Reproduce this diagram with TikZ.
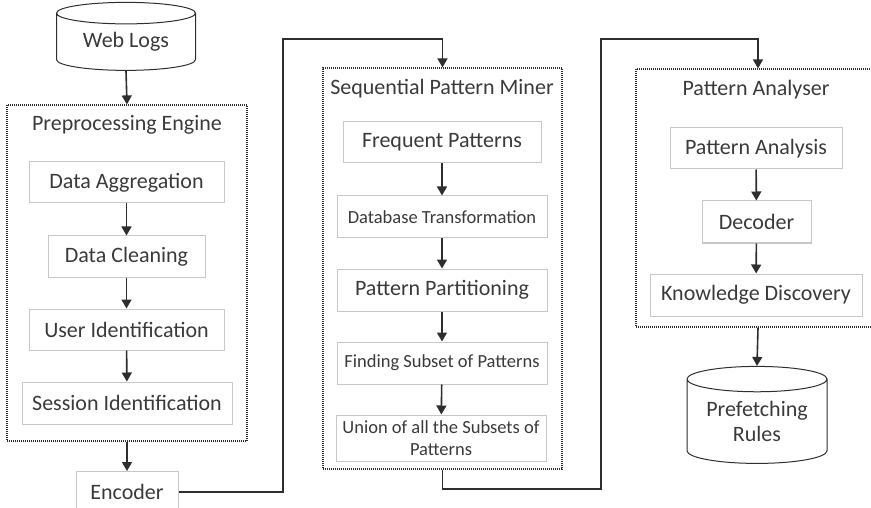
\documentclass[tikz,border=0pt]{standalone}
\usepackage{fontspec}
\setmainfont{Carlito}
\usepackage{tikz}
\usetikzlibrary{arrows.meta}
\usetikzlibrary{shapes.geometric}
\definecolor{txtgray}{HTML}{3A3A3A}
\definecolor{boxgray}{HTML}{C8C8C8}
\definecolor{linegray}{HTML}{2E2E2E}
\tikzset{
    tnode/.style = {align=center, inner sep=0pt, text centered, text=txtgray, font=\fontsize{22}{25}\selectfont},
    proc_node/.style = {tnode, rectangle, draw=boxgray, line width=1pt, minimum height=41pt},
    small_node/.style = {proc_node, font=\fontsize{18.5}{22}\selectfont},
    title_node/.style = {tnode},
    group_node/.style = {rectangle, draw=linegray, dash pattern=on 1pt off 1pt, line width=1.2pt, inner sep=0pt},
    db_node/.style = {tnode, cylinder, draw=linegray, line width=1pt, shape border rotate=90, aspect=0.25},
    flow/.style = {->, draw=linegray, line width=1.6pt}
}
\begin{document}
\begin{tikzpicture}[x=1pt,y=-1pt,>={Triangle[length=9pt,width=10pt]}]
            \clip (0,0) rectangle (871,508);
            \node [db_node, minimum width=139pt, minimum height=68pt] (web_logs) at (126,42) {Web Logs};
            \node [group_node, minimum width=240pt, minimum height=336pt] (prep) at (127,273) {};
            \node [title_node] (prep_title) at (127,125) {Preprocessing Engine};
            \node [proc_node, minimum width=195pt] (data_agg) at (126.5,182.5) {Data Aggregation};
            \node [proc_node, minimum width=157pt] (data_clean) at (126.5,256.5) {Data Cleaning};
            \node [proc_node, minimum width=195pt] (user_id) at (126.5,329.5) {User Identification};
            \node [proc_node, minimum width=210pt, minimum height=42pt] (session_id) at (127,403) {Session Identification};
            \node [proc_node, minimum width=102pt] (encoder) at (127,492) {Encoder};

            \node [group_node, minimum width=239pt, minimum height=401pt] (spm) at (442.5,268.5) {};
            \node [title_node] (spm_title) at (442,89) {Sequential Pattern Miner};
            \node [proc_node, minimum width=198pt] (freq) at (442,142.5) {Frequent Patterns};
            \node [small_node, minimum width=210pt, minimum height=42pt] (db_trans) at (442,217) {Database Transformation};
            \node [proc_node, minimum width=210pt, minimum height=42pt] (partition) at (442,290) {Pattern Partitioning};
            \node [small_node, minimum width=210pt, minimum height=42pt] (subset) at (442,363) {Finding Subset of Patterns};
            \node [small_node, minimum width=210pt, minimum height=46pt] (union) at (441,438) {Union of all the Subsets of\\Patterns};

            \node [group_node, minimum width=244pt, minimum height=258pt] (pa) at (758,198) {};
            \node [title_node] (pa_title) at (756,90) {Pattern Analyser};
            \node [proc_node, minimum width=172pt] (pat_analysis) at (756,148.5) {Pattern Analysis};
            \node [proc_node, minimum width=109pt, minimum height=42pt] (decoder) at (756.5,222) {Decoder};
            \node [proc_node, minimum width=212pt, minimum height=42pt] (knowledge) at (756,295) {Knowledge Discovery};
            \node [db_node, minimum width=140pt, minimum height=97pt] (prefetch) at (757,421.5) {Prefetching\\Rules};

            \coordinate (top_a) at (283,39);
            \coordinate (bot_b) at (601,489);
            \coordinate (top_b) at (601,39);

            \draw [flow] (web_logs.south) -- (prep.north);
            \draw [flow] (data_agg) -- (data_clean);
            \draw [flow] (data_clean) -- (user_id);
            \draw [flow] (user_id) -- (session_id);
            \draw [flow] (prep.south) -- (encoder);
            \draw [flow] (encoder.east) -| (top_a) -| (spm.north);
            \draw [flow] (freq) -- (db_trans);
            \draw [flow] (db_trans) -- (partition);
            \draw [flow] (partition) -- (subset);
            \draw [flow] (subset) -- (union);
            \draw [flow] (spm.south) |- (bot_b) -- (top_b) -| (pa.north);
            \draw [flow] (pat_analysis) -- (decoder);
            \draw [flow] (decoder) -- (knowledge);
            \draw [flow] (pa.south) -- (prefetch.north);
        \end{tikzpicture}
\end{document}
